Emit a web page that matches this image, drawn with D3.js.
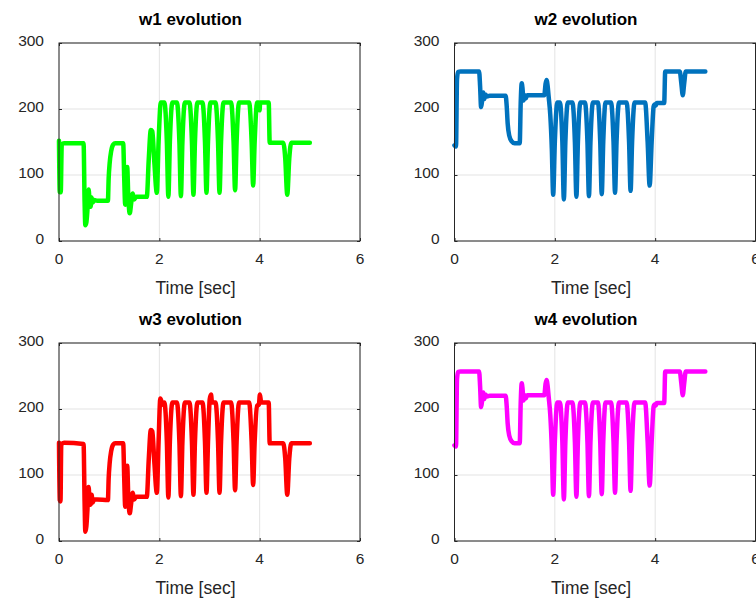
<!DOCTYPE html>
<html>
<head>
<meta charset="utf-8">
<script src="https://cdn.jsdelivr.net/npm/d3@7/dist/d3.min.js"></script>
<style>
  html, body { margin: 0; padding: 0; background: #fff; }
  svg { display: block; }
  text { font-family: "Liberation Sans", Arial, Helvetica, sans-serif; }
</style>
</head>
<body>
<svg id="chart" width="756" height="598"></svg>
<script>
// Axis ticks shared by all four panels
const timeTicks = [0, 2, 4, 6];
const valueTicks = [0, 100, 200, 300];

const titles = ["w1 evolution", "w2 evolution", "w3 evolution", "w4 evolution"];
const xLabel = "Time [sec]";

// Motor speed traces as [time (s), value]
const w1 = [
  [0.000,152],[0.015,74],[0.035,74],[0.055,146],[0.100,148],[0.490,148],
  [0.510,60],[0.525,24],[0.545,28],[0.565,45],[0.590,78],[0.610,60],[0.630,52],[0.650,66],[0.670,58],[0.700,62],[0.760,61],[0.975,61],
  [0.990,95],[1.010,118],[1.040,136],[1.080,146],[1.120,148],[1.280,148],
  [1.300,95],[1.320,55],[1.345,100],[1.360,112],[1.380,70],[1.410,42],[1.440,58],[1.470,72],[1.500,63],[1.540,67],[1.750,67],
  [1.790,125],[1.830,168],[1.860,166],[1.900,120],[1.950,73],
  [1.985,150],[2.030,210],[2.100,210],[2.150,150],[2.180,67],[2.210,150],[2.260,210],[2.350,210],[2.400,150],[2.430,68],[2.460,150],
  [2.510,210],[2.600,210],[2.650,150],[2.680,70],[2.710,150],[2.760,210],[2.860,210],[2.910,150],[2.940,73],[2.970,150],
  [3.020,210],[3.120,210],[3.170,150],[3.200,73],[3.230,150],[3.280,210],[3.430,210],[3.480,150],[3.510,77],[3.540,150],
  [3.590,210],[3.790,210],[3.840,150],[3.870,84],[3.900,150],[3.950,210],[3.985,210],[3.998,198],[4.010,210],[4.180,210],
  [4.200,149],[4.470,149],[4.510,125],[4.550,70],[4.590,125],[4.630,149],[5.000,149]
];

const w2 = [
  [0.000,145],[0.030,143],[0.050,245],[0.070,256],[0.120,257],[0.490,257],
  [0.510,235],[0.530,203],[0.550,212],[0.575,225],[0.595,215],[0.615,222],[0.650,219],[0.700,220],[1.020,220],
  [1.040,205],[1.060,178],[1.090,160],[1.140,151],[1.200,148],[1.300,148],
  [1.320,210],[1.340,239],[1.355,232],[1.375,213],[1.400,221],[1.420,216],[1.450,221],[1.790,221],
  [1.815,238],[1.835,244],[1.855,236],[1.875,220],[1.910,190],[1.940,140],[1.967,70],
  [2.000,150],[2.050,210],[2.100,210],[2.150,150],[2.180,63],[2.210,150],[2.260,210],[2.350,210],[2.400,150],[2.430,67],[2.460,150],
  [2.510,210],[2.600,210],[2.650,150],[2.680,68],[2.710,150],[2.760,210],[2.860,210],[2.905,150],[2.935,71],[2.965,150],
  [3.010,210],[3.120,210],[3.170,150],[3.200,73],[3.230,150],[3.280,210],[3.430,210],[3.480,150],[3.510,76],[3.540,150],
  [3.590,210],[3.800,210],[3.850,150],[3.890,84],[3.930,150],[3.970,204],[3.990,207],[4.010,205],[4.030,209],[4.180,209],
  [4.200,257],[4.490,257],[4.520,240],[4.550,221],[4.580,240],[4.610,257],[5.000,257]
];

const w3 = [
  [0.000,149],[0.015,62],[0.030,60],[0.045,146],[0.100,149],[0.490,147],
  [0.510,60],[0.525,14],[0.545,22],[0.565,45],[0.590,82],[0.610,60],[0.630,55],[0.650,70],[0.670,58],[0.700,63],[0.760,63],[0.975,62],
  [0.990,95],[1.010,118],[1.040,136],[1.080,146],[1.120,148],[1.280,148],
  [1.300,95],[1.320,52],[1.345,100],[1.360,114],[1.380,70],[1.410,42],[1.440,58],[1.470,73],[1.500,63],[1.540,67],[1.750,67],
  [1.790,125],[1.830,168],[1.860,166],[1.900,120],[1.950,73],
  [1.985,150],[2.020,216],[2.050,210],[2.070,206],[2.100,210],[2.150,150],[2.180,66],[2.210,150],[2.260,210],[2.350,210],
  [2.400,150],[2.430,68],[2.460,150],[2.510,210],[2.600,210],[2.650,150],[2.680,70],[2.710,150],[2.760,210],[2.860,210],
  [2.910,150],[2.940,73],[2.970,150],[3.005,215],[3.030,222],[3.050,210],[3.120,210],[3.170,150],[3.200,73],[3.230,150],
  [3.280,210],[3.430,210],[3.480,150],[3.510,77],[3.540,150],[3.590,210],[3.790,210],[3.840,150],[3.870,85],[3.900,150],
  [3.950,205],[3.985,207],[4.005,222],[4.030,210],[4.180,210],
  [4.200,148],[4.470,148],[4.510,125],[4.550,70],[4.590,125],[4.630,148],[5.000,148]
];

const w4 = [
  [0.000,145],[0.030,143],[0.050,245],[0.070,256],[0.120,257],[0.490,257],
  [0.510,235],[0.530,203],[0.550,212],[0.575,225],[0.595,215],[0.615,222],[0.650,219],[0.700,220],[1.020,220],
  [1.040,205],[1.060,178],[1.090,160],[1.140,151],[1.200,148],[1.300,148],
  [1.320,210],[1.340,239],[1.355,232],[1.375,213],[1.400,221],[1.420,216],[1.450,221],[1.790,221],
  [1.815,238],[1.835,244],[1.855,236],[1.875,220],[1.910,190],[1.940,140],[1.967,70],
  [2.000,150],[2.050,210],[2.100,210],[2.150,150],[2.180,63],[2.210,150],[2.260,210],[2.350,210],[2.400,150],[2.430,67],[2.460,150],
  [2.510,210],[2.600,210],[2.650,150],[2.680,68],[2.710,150],[2.760,210],[2.860,210],[2.905,150],[2.935,71],[2.965,150],
  [3.010,210],[3.120,210],[3.170,150],[3.200,73],[3.230,150],[3.280,210],[3.430,210],[3.480,150],[3.510,76],[3.540,150],
  [3.590,210],[3.800,210],[3.850,150],[3.890,84],[3.930,150],[3.970,204],[3.990,207],[4.010,205],[4.030,209],[4.180,209],
  [4.200,257],[4.490,257],[4.520,240],[4.550,221],[4.580,240],[4.610,257],[5.000,257]
];

const seriesList = [w1, w2, w3, w4];
const lineColors = ["#00ff00", "#0072bd", "#ff0000", "#ff00ff"];

// Panel layout (2 x 2 grid)
const panelW = 301, panelH = 198;
const panelLeft = [59, 454.5];
const panelTop = [43, 343];
const axisColor = "#262626";
const gridColor = "#e3e3e3";
const tickLen = 3;

const svg = d3.select("#chart");

seriesList.forEach((data, i) => {
  const col = i % 2, row = Math.floor(i / 2);
  const x0 = panelLeft[col], y0 = panelTop[row];

  const x = d3.scaleLinear().domain([0, 6]).range([x0, x0 + panelW]);
  const y = d3.scaleLinear().domain([0, 300]).range([y0 + panelH, y0]);

  const g = svg.append("g");

  // grid
  g.selectAll(".gx").data(timeTicks).join("line")
    .attr("x1", d => x(d)).attr("x2", d => x(d))
    .attr("y1", y0).attr("y2", y0 + panelH)
    .attr("stroke", gridColor).attr("stroke-width", 1);
  g.selectAll(".gy").data(valueTicks).join("line")
    .attr("x1", x0).attr("x2", x0 + panelW)
    .attr("y1", d => y(d)).attr("y2", d => y(d))
    .attr("stroke", gridColor).attr("stroke-width", 1);

  // inward ticks on all four sides
  const xAxisB = d3.axisBottom(x).tickValues(timeTicks).tickSize(-tickLen).tickFormat("");
  const xAxisT = d3.axisTop(x).tickValues(timeTicks).tickSize(-tickLen).tickFormat("");
  const yAxisL = d3.axisLeft(y).tickValues(valueTicks).tickSize(-tickLen).tickFormat("");
  const yAxisR = d3.axisRight(y).tickValues(valueTicks).tickSize(-tickLen).tickFormat("");
  [[xAxisB, `translate(0,${y0 + panelH})`], [xAxisT, `translate(0,${y0})`],
   [yAxisL, `translate(${x0},0)`], [yAxisR, `translate(${x0 + panelW},0)`]].forEach(([ax, tr]) => {
    const a = g.append("g").attr("transform", tr).call(ax);
    a.select(".domain").remove();
    a.selectAll(".tick line").attr("stroke", axisColor);
  });

  // data line
  const line = d3.line()
    .x(d => x(d[0]))
    .y(d => y(d[1]))
    .curve(d3.curveMonotoneX);
  g.append("path")
    .datum(data)
    .attr("d", line)
    .attr("fill", "none")
    .attr("stroke", lineColors[i])
    .attr("stroke-width", 4.5)
    .attr("stroke-linejoin", "round")
    .attr("stroke-linecap", "round");

  // box
  g.append("rect")
    .attr("x", x0).attr("y", y0)
    .attr("width", panelW).attr("height", panelH)
    .attr("fill", "none").attr("stroke", axisColor).attr("stroke-width", 1);

  // tick labels
  g.selectAll(".xl").data(timeTicks).join("text")
    .attr("x", d => x(d)).attr("y", y0 + panelH + 22.5)
    .attr("text-anchor", "middle")
    .attr("font-size", 15.5).attr("fill", axisColor)
    .text(d => d);
  g.selectAll(".yl").data(valueTicks).join("text")
    .attr("x", x0 - 15).attr("y", d => y(d) - 2.5)
    .attr("dy", "0.36em")
    .attr("text-anchor", "end")
    .attr("font-size", 15.5).attr("fill", axisColor)
    .text(d => d);

  // title and x label
  const cx = x0 + panelW / 2;
  g.append("text")
    .attr("x", cx - 19).attr("y", y0 - 18)
    .attr("text-anchor", "middle")
    .attr("font-size", 17).attr("font-weight", "bold").attr("fill", "#000")
    .text(titles[i]);
  g.append("text")
    .attr("x", cx - 14).attr("y", y0 + panelH + 52.5)
    .attr("text-anchor", "middle")
    .attr("font-size", 17.5).attr("fill", axisColor)
    .text(xLabel);
});
</script>
</body>
</html>
